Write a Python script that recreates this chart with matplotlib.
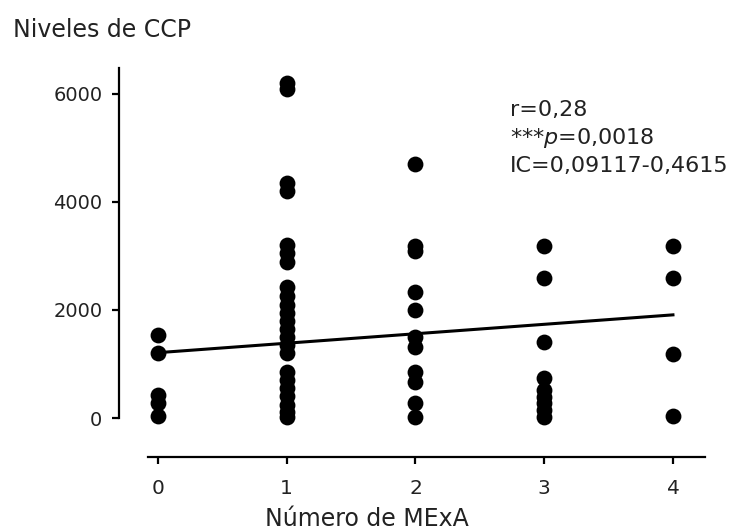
import numpy as np
import matplotlib
matplotlib.use('Agg')
import matplotlib.pyplot as plt

# Data: CCP levels for each number of MExA
x_groups = [0, 1, 2, 3, 4]
ccp_0 = [1540, 1210, 430, 280, 30]
ccp_1 = [6200, 6100, 4350, 4200, 3200, 3050, 2880, 2420, 2250, 2100, 1950,
         1800, 1650, 1500, 1350, 1200, 850, 700, 550, 400, 250, 120, 20]
ccp_2 = [4700, 3180, 3100, 2340, 2005, 1505, 1320, 855, 670, 280, 20]
ccp_3 = [3180, 2600, 1400, 740, 520, 390, 280, 150, 20]
ccp_4 = [3180, 2600, 1180, 40]
groups = [ccp_0, ccp_1, ccp_2, ccp_3, ccp_4]

# Regression line endpoints
fit_x = [0, 4]
fit_y = [1210, 1910]

xticks = [0, 1, 2, 3, 4]
yticks = [0, 2000, 4000, 6000]

plt.rcParams['font.family'] = ['DejaVu Sans']
plt.rcParams['mathtext.fontset'] = 'dejavusans'

fig = plt.figure(figsize=(7.56, 5.32), dpi=100)
ax = fig.add_axes([119 / 756, 75 / 532, 586 / 756, 389 / 532])

for xv, vals in zip(x_groups, groups):
    ax.scatter([xv] * len(vals), vals, s=130, color='black', zorder=3,
               linewidths=0)

ax.plot(fit_x, fit_y, color='black', lw=2.2, zorder=2)

ax.set_xlim(-0.303, 4.249)
ax.set_ylim(-722, 6481)

ax.spines['top'].set_visible(False)
ax.spines['right'].set_visible(False)
ax.spines['left'].set_bounds(0, 6481)
ax.spines['bottom'].set_bounds(-0.08, 4.249)
ax.spines['left'].set_linewidth(1.6)
ax.spines['bottom'].set_linewidth(1.6)

ax.set_xticks(xticks)
ax.set_yticks(yticks)
ax.tick_params(axis='x', length=5, width=1.6, pad=11, labelsize=14.5,
               labelcolor='#222222')
ax.tick_params(axis='y', length=5, width=1.6, pad=7, labelsize=14,
               labelcolor='#222222')

fig.text(13 / 756, 1 - 30 / 532, 'Niveles de CCP', color='#222222',
         va='center', ha='left', fontsize=17)
fig.text(367 / 756, 13 / 532, 'Número de MExA', fontsize=17,
         color='#222222', va='center', ha='center')

txt = dict(color='#222222', va='center', ha='left', fontsize=16)
fig.text(510 / 756, 1 - 110 / 532, 'r=0,28', **txt)
fig.text(510 / 756, 1 - 138 / 532, r'***$\mathit{p}$=0,0018', **txt)
fig.text(510 / 756, 1 - 166 / 532, 'IC=0,09117-0,4615', **txt)

fig.savefig('out.png', dpi=100)
